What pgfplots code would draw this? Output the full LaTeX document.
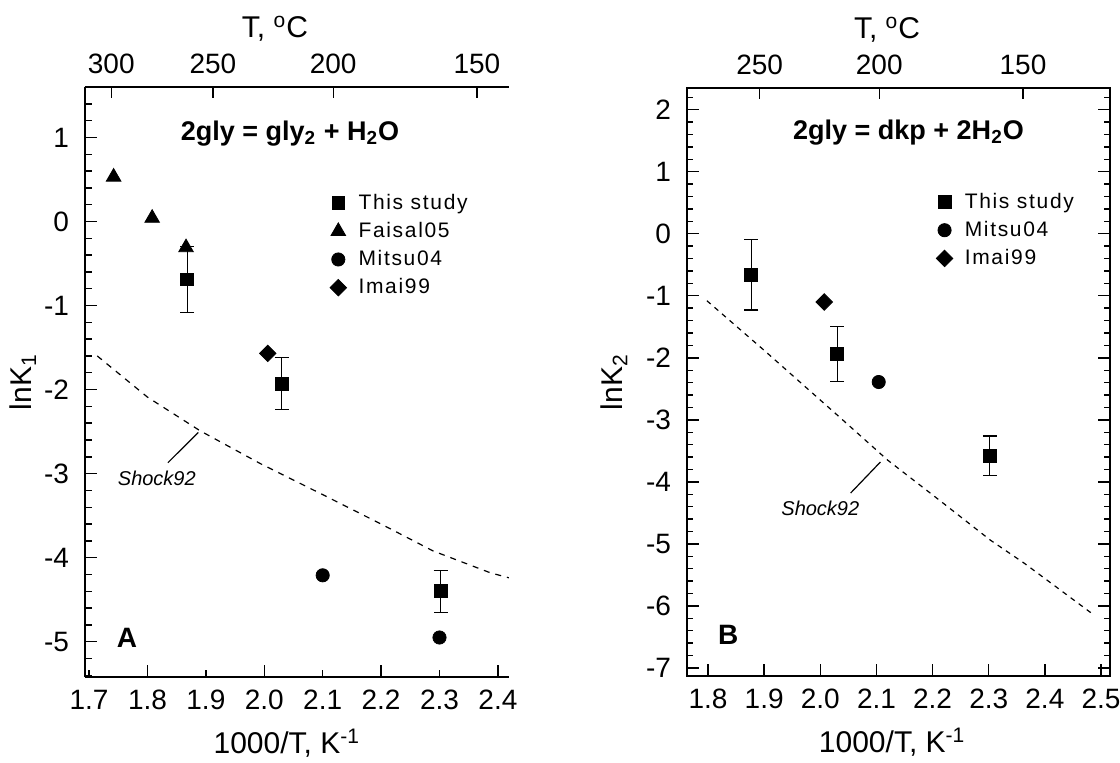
\documentclass[border=0pt]{standalone}
\usepackage{pgfplots}
\pgfplotsset{compat=1.18}
\usepackage{fontspec}
\setmainfont{Liberation Sans}
\newfontfamily\legfont[LetterSpace=8]{Liberation Sans}

\pgfplotsset{
  base/.style={
    scale only axis,
    axis line style={line width=1.1pt},
    every tick/.style={line width=0.7pt, black},
    tick align=inside,
    major tick length=6pt,
    minor tick length=3.5pt,
    tick label style={font=\fontsize{14}{16}\selectfont},
    label style={font=\fontsize{15}{17}\selectfont},
    xticklabel shift=3pt, yticklabel shift=4.5pt,
  },
  pt/.style={only marks, legend image code/.code={\draw[##1] plot coordinates {(0.12cm,0cm)};}},
  ebar/.style={error bars/.cd, y dir=both, y explicit,
    error bar style={line width=0.6pt, black},
    error mark options={rotate=90, mark size=3.5pt, line width=0.6pt, black}},
  shock/.style={black, line width=0.6pt, dash pattern=on 3pt off 3pt},
  dia/.style={mark=square*, mark size=2.9pt, mark options={rotate=45}},
  leg/.style={legend style={at={#1}, anchor=north west, draw=none, fill=none,
    font=\legfont\fontsize{10.5}{12}\selectfont, row sep=1pt, inner sep=0pt,
    /tikz/every odd column/.append style={column sep=4pt}},
    legend cell align=left},
}

\begin{document}
\begin{tikzpicture}
\path[use as bounding box] (-42.5pt,-42.5pt) rectangle (517.5pt,338.5pt);

% ---------------- Panel A ----------------
\begin{axis}[base,
  at={(0pt,0pt)}, anchor=south west,
  width=212pt, height=295pt,
  xmin=1.693, xmax=2.419, ymin=-5.42, ymax=1.6,
  axis y line*=left,
  xtick pos=left, ytick pos=left,
  xtick={1.8,2.0,2.2,2.4}, xticklabels={1.8,2.0,2.2,2.4},
  extra x ticks={1.7,1.9,2.1,2.3}, extra x tick labels={1.7,1.9,2.1,2.3},
  extra x tick style={major tick length=3.5pt},
  ytick={-5,-4,-3,-2,-1,0,1}, yticklabels={-5,-4,-3,-2,-1,0,1},
  minor ytick={-5.4,-5.2,-4.8,-4.6,-4.4,-4.2,-3.8,-3.6,-3.4,-3.2,-2.8,-2.6,-2.4,-2.2,-1.8,-1.6,-1.4,-1.2,-0.8,-0.6,-0.4,-0.2,0.2,0.4,0.6,0.8,1.2,1.4},
  xlabel={1000/T, K\textsuperscript{-1}},
  xlabel style={at={(axis description cs:0.476,0)}, yshift=-33pt, anchor=center},
  ylabel={lnK\textsubscript{1}},
  ylabel style={at={(axis description cs:-0.146,0.5)}, anchor=center},
  leg={(axis cs:2.112,0.38)},
]
\addplot[pt, mark=square*, mark size=3.2pt, black, ebar] table[y error=e] {
x y e
1.868 -0.69 0.39
2.030 -1.93 0.31
2.302 -4.40 0.25
};
\addlegendentry{This study}
\addplot[pt, mark=triangle*, mark size=4.2pt, black] coordinates {
(1.742,0.53) (1.808,0.04) (1.866,-0.31)};
\addlegendentry{Faisal05}
\addplot[pt, mark=*, mark size=3.3pt, black] coordinates {
(2.100,-4.21) (2.300,-4.95)};
\addlegendentry{Mitsu04}
\addplot[pt, dia, black] coordinates {
(2.006,-1.57)};
\addlegendentry{Imai99}
\addplot[shock, forget plot] coordinates {
(1.714,-1.60) (1.800,-2.09) (1.890,-2.49) (1.993,-2.88) (2.100,-3.25)
(2.200,-3.60) (2.289,-3.92) (2.387,-4.18) (2.419,-4.24)};
\addplot[black, line width=0.6pt, forget plot] coordinates {(1.835,-2.87) (1.887,-2.51)};
\node[font=\itshape\fontsize{10}{12}\selectfont] at (axis cs:1.816,-3.06) {Shock92};
\node[font=\bfseries\fontsize{13.5}{15}\selectfont] at (axis cs:2.044,1.05) {2gly = gly\textsubscript{2} + H\textsubscript{2}O};
\node[font=\bfseries\fontsize{14}{16}\selectfont] at (axis cs:1.765,-4.95) {A};
\end{axis}

\begin{axis}[base,
  at={(0pt,0pt)}, anchor=south west,
  width=212pt, height=295pt,
  xmin=1.693, xmax=2.419, ymin=-5.42, ymax=1.6,
  axis x line*=top, axis y line=none,
  xtick={1.738,1.912,2.118,2.364}, xticklabels={300,250,200,150},
  ytick=\empty, major tick length=5.5pt,
  xlabel={T, \textsuperscript{o}C},
  xlabel style={at={(axis description cs:0.448,1)}, yshift=29pt, anchor=center},
]
\end{axis}

% ---------------- Panel B ----------------
\begin{axis}[base,
  at={(301pt,0.5pt)}, anchor=south west,
  width=211.5pt, height=294pt,
  xmin=1.7625, xmax=2.516, ymin=-7.13, ymax=2.35,
  xtick pos=left,
  xtick={1.8,1.9,2.0,2.1,2.2,2.3,2.4,2.5}, xticklabels={1.8,1.9,2.0,2.1,2.2,2.3,2.4,2.5},
  ytick={-7,-6,-5,-4,-3,-2,-1,0,1,2}, yticklabels={-7,-6,-5,-4,-3,-2,-1,0,1,2},
  minor ytick={-6.8,-6.6,-6.4,-6.2,-5.8,-5.6,-5.4,-5.2,-4.8,-4.6,-4.4,-4.2,-3.8,-3.6,-3.4,-3.2,-2.8,-2.6,-2.4,-2.2,-1.8,-1.6,-1.4,-1.2,-0.8,-0.6,-0.4,-0.2,0.2,0.4,0.6,0.8,1.2,1.4,1.6,1.8,2.2},
  minor tick length=3pt,
  xlabel={1000/T, K\textsuperscript{-1}},
  xlabel style={at={(axis description cs:0.485,0)}, yshift=-33pt, anchor=center},
  ylabel={lnK\textsubscript{2}},
  ylabel style={at={(axis description cs:-0.172,0.5)}, anchor=center},
  leg={(axis cs:2.206,0.73)},
]
\addplot[pt, mark=square*, mark size=3.2pt, black, ebar] table[y error=e] {
x y e
1.877 -0.66 0.57
2.030 -1.94 0.44
2.302 -3.58 0.32
};
\addlegendentry{This study}
\addplot[pt, mark=*, mark size=3.3pt, black] coordinates {(2.104,-2.39)};
\addlegendentry{Mitsu04}
\addplot[pt, dia, black] coordinates {(2.007,-1.10)};
\addlegendentry{Imai99}
\addplot[shock, forget plot, dash pattern=on 2.5pt off 2.5pt] coordinates {
(1.798,-1.08) (1.900,-1.88) (2.036,-2.97) (2.120,-3.65) (2.200,-4.21)
(2.303,-4.94) (2.363,-5.31) (2.482,-6.11)};
\addplot[black, line width=0.6pt, forget plot] coordinates {(2.054,-4.18) (2.107,-3.68)};
\node[font=\itshape\fontsize{10}{12}\selectfont] at (axis cs:2.0,-4.42) {Shock92};
\node[font=\bfseries\fontsize{13.5}{15}\selectfont] at (axis cs:2.157,1.63) {2gly = dkp + 2H\textsubscript{2}O};
\node[font=\bfseries\fontsize{14}{16}\selectfont] at (axis cs:1.836,-6.47) {B};
\end{axis}

\begin{axis}[base,
  at={(301pt,0.5pt)}, anchor=south west,
  width=211.5pt, height=294pt,
  xmin=1.7625, xmax=2.516, ymin=-7.13, ymax=2.35,
  axis x line*=top, axis y line=none,
  xtick={1.892,2.105,2.361}, xticklabels={250,200,150},
  ytick=\empty, major tick length=5.5pt,
  xlabel={T, \textsuperscript{o}C},
  xlabel style={at={(axis description cs:0.473,1)}, yshift=29pt, anchor=center},
]
\end{axis}
\end{tikzpicture}
\end{document}
